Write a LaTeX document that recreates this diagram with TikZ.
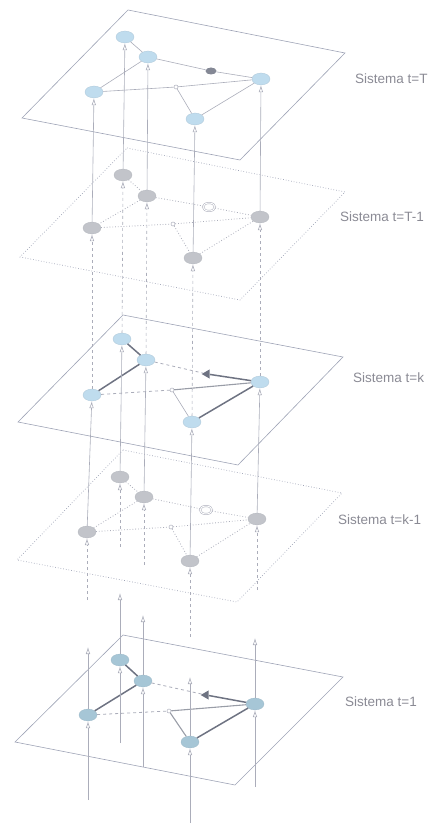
\documentclass[tikz,border=0pt]{standalone}
\usepackage{fontspec}
\setmainfont{Liberation Sans}
\usetikzlibrary{shapes.geometric, arrows.meta}
\definecolor{Line}{HTML}{abadba}
\definecolor{Plane}{HTML}{9ea3b6}
\definecolor{Blue}{HTML}{bfdcee}
\definecolor{Grey}{HTML}{c2c4ca}
\definecolor{Steel}{HTML}{a6c6d6}
\definecolor{Dark}{HTML}{6e7382}
\definecolor{Text}{HTML}{8a8a94}
\tikzset{
  sysnode/.style={ellipse, minimum width=18pt, minimum height=12pt, inner sep=0pt},
  bluenode/.style={sysnode, fill=Blue, draw=Blue!80!Dark, line width=0.3pt},
  greynode/.style={sysnode, fill=Grey, draw=Grey!85!Dark, line width=0.3pt},
  steelnode/.style={sysnode, fill=Steel, draw=Steel!85!Dark, line width=0.3pt},
  junction/.style={circle, minimum size=4pt, inner sep=0pt, draw=Line, fill=white, line width=0.5pt},
  blob/.style={ellipse, minimum width=11pt, minimum height=7pt, inner sep=0pt, fill=Dark!85},
  ring/.style={ellipse, minimum width=12pt, minimum height=8pt, inner sep=0pt, draw=Line, double=white, double distance=1pt, line width=0.5pt},
  wedge/.style={isosceles triangle, shape border rotate=180, isosceles triangle apex angle=60, minimum size=8pt, inner sep=0pt, fill=Dark},
  link/.style={draw=Line, line width=0.6pt},
  dots/.style={draw=Line, line width=0.8pt, dotted},
  weak/.style={draw=Line, line width=0.8pt, dash pattern=on 3pt off 3pt},
  strong/.style={draw=Dark, line width=1.5pt},
  mid/.style={draw=Dark!70, line width=1.1pt},
  systext/.style={anchor=west, text=Text, font=\fontsize{13.5}{16}\selectfont, inner sep=0pt}
}

\begin{document}
\begin{tikzpicture}[x=1pt,y=-1pt,>={Latex[open,length=7pt,width=4.5pt]}]

\useasboundingbox (0,0) rectangle (431,826);

\draw[Plane,line width=0.6pt] (128,10) -- (345,53) -- (240,160) -- (22,118) -- cycle;
\draw[Plane,line width=0.7pt,dotted] (127,148) -- (345,192) -- (240,300) -- (20,257) -- cycle;
\draw[Plane,line width=0.6pt] (123,315) -- (343,357) -- (238,465) -- (18,422) -- cycle;
\draw[Plane,line width=0.7pt,dotted] (123,450) -- (342,493) -- (237,602) -- (17,560) -- cycle;
\draw[Plane,line width=0.6pt] (123,635) -- (343,677) -- (235,785) -- (15,742) -- cycle;

\node[bluenode] (T1) at (125,37) {};
\node[bluenode] (T2) at (148,57) {};
\node[bluenode] (T3) at (94,92) {};
\node[bluenode] (T4) at (261,79) {};
\node[bluenode] (T5) at (195,119) {};
\node[junction] (Tj) at (176,87) {};
\node[blob] (Ti) at (211,71) {};

\node[greynode] (U1) at (123,175) {};
\node[greynode] (U2) at (147,196) {};
\node[greynode] (U3) at (92,228) {};
\node[greynode] (U4) at (260,217) {};
\node[greynode] (U5) at (193,258) {};
\node[junction] (Uj) at (173,224) {};
\node[ring] (Ui) at (209,207) {};

\node[bluenode] (K1) at (122,339) {};
\node[bluenode] (K2) at (146,360) {};
\node[bluenode] (K3) at (92,395) {};
\node[bluenode] (K4) at (260,382) {};
\node[bluenode] (K5) at (192,422) {};
\node[junction] (Kj) at (172,390) {};
\node[wedge] (Ki) at (207,374) {};

\node[greynode] (L1) at (120,477) {};
\node[greynode] (L2) at (144,497) {};
\node[greynode] (L3) at (87,532) {};
\node[greynode] (L4) at (257,519) {};
\node[greynode] (L5) at (190,561) {};
\node[junction] (Lj) at (171,527) {};
\node[ring] (Li) at (206,510) {};

\node[steelnode] (O1) at (120,660) {};
\node[steelnode] (O2) at (143,681) {};
\node[steelnode] (O3) at (88,715) {};
\node[steelnode] (O4) at (255,704) {};
\node[steelnode] (O5) at (190,742) {};
\node[junction] (Oj) at (169,711) {};
\node[wedge] (Oi) at (206,695) {};

\coordinate (e1) at (120,547);
\coordinate (e2) at (144,565);
\coordinate (e3) at (87,600);
\coordinate (e4) at (257,590);
\coordinate (e5) at (190,637);

\coordinate (t1) at (120,593);
\coordinate (t2) at (143,615);
\coordinate (t3) at (88,647);
\coordinate (t4) at (255,638);
\coordinate (t5) at (190,677);

\coordinate (b1) at (120,743);
\coordinate (b2) at (143,767);
\coordinate (b3) at (88,800);
\coordinate (b4) at (255,787);
\coordinate (b5) at (190,823);

\node[systext] (sT) at (355,79) {Sistema t=T};
\node[systext] (sU) at (340,217) {Sistema t=T-1};
\node[systext] (sK) at (353,378) {Sistema t=k};
\node[systext] (sL) at (338,520) {Sistema t=k-1};
\node[systext] (sO) at (345,702) {Sistema t=1};

\draw[link] (T1) -- (T2);
\draw[link] (T2) -- (T3);
\draw[link] (T2) -- (Ti);
\draw[link] (Ti) -- (T4);
\draw[link] (T3) -- (Tj);
\draw[link] (Tj) -- (T4);
\draw[link] (Tj) -- (T5);
\draw[link] (T5) -- (T4);

\draw[dots] (U1) -- (U2);
\draw[dots] (U2) -- (U3);
\draw[dots] (U2) -- (Ui);
\draw[dots] (Ui) -- (U4);
\draw[dots] (U3) -- (Uj);
\draw[dots] (Uj) -- (U4);
\draw[dots] (Uj) -- (U5);
\draw[dots] (U5) -- (U4);

\draw[strong] (K1) -- (K2);
\draw[strong] (K2) -- (K3);
\draw[weak] (K2) -- (Ki);
\draw[strong] (Ki) -- (K4);
\draw[weak] (K3) -- (Kj);
\draw[mid] (Kj) -- (K4);
\draw[link] (Kj) -- (K5);
\draw[strong] (K5) -- (K4);

\draw[dots] (L1) -- (L2);
\draw[dots] (L2) -- (L3);
\draw[dots] (L2) -- (Li);
\draw[dots] (Li) -- (L4);
\draw[dots] (L3) -- (Lj);
\draw[dots] (Lj) -- (L4);
\draw[dots] (Lj) -- (L5);
\draw[dots] (L5) -- (L4);

\draw[strong] (O1) -- (O2);
\draw[strong] (O2) -- (O3);
\draw[weak] (O2) -- (Oi);
\draw[strong] (Oi) -- (O4);
\draw[weak] (O3) -- (Oj);
\draw[mid] (Oj) -- (O4);
\draw[mid] (Oj) -- (O5);
\draw[strong] (O5) -- (O4);

\draw[->,Line,line width=0.6pt] (U1) -- (T1);
\draw[->,Line,line width=0.6pt] (U2) -- (T2);
\draw[->,Line,line width=0.6pt] (U3) -- (T3);
\draw[->,Line,line width=0.6pt] (U4) -- (T4);
\draw[->,Line,line width=0.6pt] (U5) -- (T5);

\draw[->,Line,line width=0.6pt,dashed] (K1) -- (U1);
\draw[->,Line,line width=0.6pt,dashed] (K2) -- (U2);
\draw[->,Line,line width=0.6pt,dashed] (K3) -- (U3);
\draw[->,Line,line width=0.6pt,dashed] (K4) -- (U4);
\draw[->,Line,line width=0.6pt,dashed] (K5) -- (U5);

\draw[->,Line,line width=0.6pt] (L1) -- (K1);
\draw[->,Line,line width=0.6pt] (L2) -- (K2);
\draw[->,Line,line width=0.6pt] (L3) -- (K3);
\draw[->,Line,line width=0.6pt] (L4) -- (K4);
\draw[->,Line,line width=0.6pt] (L5) -- (K5);

\draw[->,Line,line width=0.6pt,dashed] (e1) -- (L1);
\draw[->,Line,line width=0.6pt,dashed] (e2) -- (L2);
\draw[->,Line,line width=0.6pt,dashed] (e3) -- (L3);
\draw[->,Line,line width=0.6pt,dashed] (e4) -- (L4);
\draw[->,Line,line width=0.6pt,dashed] (e5) -- (L5);

\draw[->,Line,line width=0.6pt] (b1) -- (O1);
\draw[->,Line,line width=0.6pt] (b2) -- (O2);
\draw[->,Line,line width=0.6pt] (b3) -- (O3);
\draw[->,Line,line width=0.6pt] (b4) -- (O4);
\draw[->,Line,line width=0.6pt] (b5) -- (O5);

\draw[->,Line,line width=0.6pt] (O1) -- (t1);
\draw[->,Line,line width=0.6pt] (O2) -- (t2);
\draw[->,Line,line width=0.6pt] (O3) -- (t3);
\draw[->,Line,line width=0.6pt] (O4) -- (t4);
\draw[->,Line,line width=0.6pt] (O5) -- (t5);

\end{tikzpicture}
\end{document}
